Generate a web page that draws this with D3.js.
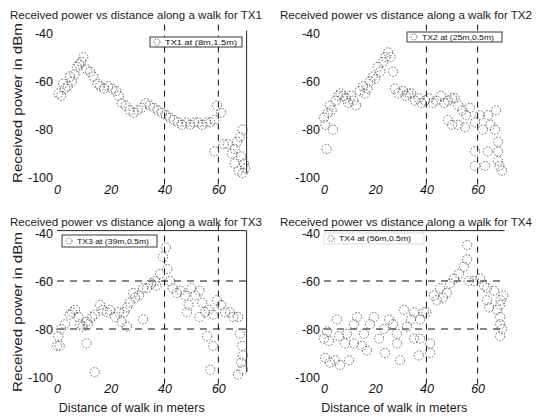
<!DOCTYPE html>
<html>
<head>
<meta charset="utf-8">
<script src="https://cdn.jsdelivr.net/npm/d3@7"></script>
<style>
  body { margin: 0; background: #fff; }
  svg { font-family: 'Liberation Sans', Arial, sans-serif; }
</style>
</head>
<body>
<div id="chart"></div>
<script>
// [distance in m, received power in dBm]
const tx1 = [
  [0.5, -65], [1.5, -66], [2.3, -61], [3, -63], [4, -62], [4.8, -58], [5.5, -60],
  [6.5, -57], [7.4, -54], [8.2, -53], [9, -52], [9.8, -50], [11, -55], [12.3, -56],
  [13.5, -58], [15, -61], [16, -62], [17.5, -63], [19, -62], [20.5, -63], [22, -64],
  [23, -66], [24, -69], [25.5, -70], [27, -72], [28.5, -73], [30, -72], [31.5, -71],
  [33, -69], [34.5, -70], [36, -71], [37.5, -72], [39, -73], [40.5, -74], [42, -75],
  [43.5, -76], [45, -77], [46.5, -78], [48, -77], [49.5, -78], [51, -77], [52.5, -77],
  [54, -78], [55.5, -77], [57, -77], [58.5, -76], [59.5, -70], [61, -73], [58.5, -89],
  [62, -86], [63.5, -86], [65, -90], [66, -88], [67, -85], [68, -83], [69, -80],
  [68.5, -91], [69.5, -94], [70, -96], [66, -94], [67.5, -97], [69, -98]
]
const tx2 = [
  [0, -75], [0.5, -78], [1, -88], [1.5, -73], [2.3, -70], [3, -72], [3.5, -80],
  [4.5, -68], [5.5, -66], [6.5, -65], [7.5, -66], [8.5, -67], [9.5, -69], [10.5, -66],
  [11.5, -68], [12.5, -70], [14, -64], [15.2, -62], [16, -65], [17, -63], [18, -60],
  [19, -58], [20, -59], [21, -54], [22, -56], [23, -52], [24, -50], [25, -48],
  [26, -50], [27, -56], [27.7, -63], [29, -65], [30.9, -64], [32, -66], [33, -65],
  [34, -65], [35.5, -68], [37, -67], [38, -69], [39.5, -68], [41, -67], [42.5, -69],
  [44, -68], [45.7, -66], [47, -69], [48.4, -68], [50, -67], [51, -67], [52.5, -70],
  [54, -72], [55.5, -74], [57, -71], [48.4, -76], [50, -78], [52.3, -78], [55, -79],
  [59, -77], [60.9, -74], [62, -80], [64, -74], [65, -78], [66.8, -80], [67.2, -72],
  [68, -85], [68, -89], [68, -93], [68.5, -95], [69.5, -97], [59, -89], [62.9, -95],
  [59, -95], [64, -89]
]
const tx3 = [
  [0, -87], [0.5, -83], [1.5, -80], [3, -78], [4.8, -74], [5.6, -73], [6.7, -72],
  [8, -75], [8.6, -78], [9.5, -79], [11, -77], [11.5, -78], [13, -75], [14, -74],
  [16, -70], [17, -72], [18.6, -73], [19.7, -72], [21.6, -75], [23, -73], [24, -77],
  [25, -73], [26, -71], [27, -69], [28.3, -65], [29, -67], [30.5, -66], [32, -63],
  [33.5, -63], [35, -61], [36.5, -60], [37, -62], [38.3, -57], [39.4, -50], [40.5, -46],
  [41, -55], [42, -60], [43, -63], [44.5, -65], [46, -64], [47.6, -66], [48.3, -73],
  [49, -70], [50, -63], [51.5, -66], [53, -64], [54, -69], [53, -75], [55, -73],
  [56.5, -72], [58, -74], [59.5, -68], [61, -70], [62.5, -73], [64.3, -73], [65.5, -75],
  [67.3, -75], [68, -82], [68.8, -87], [69.1, -91], [69.1, -97], [67.3, -99], [68.5, -94],
  [55.8, -83], [58, -87], [57, -97], [32, -76], [26, -79], [11, -86], [14, -98], [1, -87]
]
const tx4 = [
  [0, -84], [0.4, -92], [1.2, -81], [2, -85], [2.3, -94], [4.3, -93], [5, -76],
  [5.9, -83], [6.2, -95], [8.2, -86], [9, -82], [9.8, -93], [11.7, -78], [11.7, -86],
  [12.9, -75], [14.8, -87], [15.6, -82], [16.8, -89], [18, -78], [19.5, -75], [21.5, -84],
  [23.4, -80], [23.8, -90], [25.4, -76], [27, -78], [28.5, -82], [28.5, -86], [29.7, -93],
  [31.2, -72], [32.4, -79], [34, -76], [35.2, -73], [35.2, -84], [37, -91], [37.5, -76],
  [37.5, -84], [39, -73], [40, -73], [41.4, -86], [41.4, -90], [43, -66], [44.1, -68],
  [45.3, -63], [46.5, -67], [48, -65], [49.2, -61], [50.8, -59], [52.7, -57], [54.7, -54],
  [55.9, -51], [55.9, -45], [56.5, -60], [58.6, -60], [61, -59], [62.5, -62], [63.7, -63],
  [63.7, -68], [64.5, -71], [66.4, -64], [67.6, -72], [68.8, -70], [68.8, -75], [68.8, -78],
  [68.8, -83], [69.5, -80], [70, -66], [69, -68]
]

const titles = [
  'Received power vs distance along a walk for TX1',
  'Received power vs distance along a walk for TX2',
  'Received power vs distance along a walk for TX3',
  'Received power vs distance along a walk for TX4'
]
const legendLabels = ['TX1 at (8m,1.5m)', 'TX2 at (25m,0.5m)', 'TX3 at (39m,0.5m)', 'TX4 at (56m,0.5m)']
const xTicks = [0, 20, 40, 60]
const yTicks = [-40, -60, -80, -100]
const distLines = [40, 60]
const powerLines = [-60, -80]

const svg = d3
  .select('#chart')
  .append('svg')
  .attr('width', 537)
  .attr('height', 417)

const panels = [
  { data: tx1, x: [57, 246.6], y: [182.8, 30.6], titleX: 10, titleY: 19, yLabel: 103, hLines: false, frame: ['right'], legend: [150, 37, 92, 10] },
  { data: tx2, x: [324, 504.5], y: [182.8, 30.6], titleX: 280, titleY: 19, yLabel: null, hLines: false, frame: [], legend: [407, 32, 95, 10] },
  { data: tx3, x: [57, 246.6], y: [381.8, 230.6], titleX: 10, titleY: 226, yLabel: 312, hLines: true, frame: ['top', 'right'], legend: [62, 235, 95, 12] },
  { data: tx4, x: [324, 504.5], y: [381.8, 230.6], titleX: 280, titleY: 226, yLabel: null, hLines: true, frame: ['top'], legend: [324, 233, 100, 11] }
]

panels.forEach((p, i) => {
  const xScale = d3.scaleLinear().domain([0, 70.5]).range(p.x)
  const yScale = d3.scaleLinear().domain([-102, -39]).range(p.y)
  const g = svg.append('g')

  // title
  g.append('text')
    .attr('x', p.titleX)
    .attr('y', p.titleY)
    .attr('font-size', 10)
    .attr('textLength', 252)
    .attr('lengthAdjust', 'spacingAndGlyphs')
    .attr('fill', '#222')
    .text(titles[i])

  // dashed reference lines
  g.selectAll('.vline')
    .data(distLines)
    .enter()
    .append('line')
    .attr('x1', d => xScale(d))
    .attr('x2', d => xScale(d))
    .attr('y1', yScale(-39) - 6)
    .attr('y2', yScale(-102) + 2)
    .attr('stroke', '#111')
    .attr('stroke-width', 1)
    .attr('stroke-dasharray', '6,5')

  if (p.hLines) {
    g.selectAll('.hline')
      .data(powerLines)
      .enter()
      .append('line')
      .attr('x1', xScale(0))
      .attr('x2', xScale(70.5))
      .attr('y1', d => yScale(d))
      .attr('y2', d => yScale(d))
      .attr('stroke', '#111')
      .attr('stroke-width', 1)
      .attr('stroke-dasharray', '7,6')
  }

  // what is left of the axes box in the scan
  if (p.frame.includes('top')) {
    g.append('line')
      .attr('x1', xScale(0)).attr('x2', xScale(70.5))
      .attr('y1', yScale(-39)).attr('y2', yScale(-39))
      .attr('stroke', '#222')
  }
  if (p.frame.includes('right')) {
    g.append('line')
      .attr('x1', xScale(70.5)).attr('x2', xScale(70.5))
      .attr('y1', yScale(-39)).attr('y2', yScale(-98))
      .attr('stroke', '#222')
  }

  // measurements
  g.selectAll('circle.pt')
    .data(p.data)
    .enter()
    .append('circle')
    .attr('class', 'pt')
    .attr('cx', d => xScale(d[0]))
    .attr('cy', d => yScale(d[1]))
    .attr('r', 4.6)
    .attr('fill', 'none')
    .attr('stroke', '#444')
    .attr('stroke-width', 0.8)
    .attr('stroke-dasharray', '1.6,1.6')

  // axes, plain hyphen minus like the original
  const yAxis = d3.axisLeft(yScale).tickValues(yTicks).tickSize(0).tickPadding(4).tickFormat(d => String(d))
  g.append('g')
    .attr('transform', 'translate(' + xScale(0) + ',0)')
    .call(yAxis)
    .call(a => a.select('.domain').remove())
    .selectAll('text')
    .attr('font-size', 12.5)
    .attr('fill', '#111')
    .attr('font-family', 'Liberation Sans, Arial, sans-serif')

  const xAxis = d3.axisBottom(xScale).tickValues(xTicks).tickSize(0).tickPadding(7).tickFormat(d => String(d))
  g.append('g')
    .attr('transform', 'translate(0,' + yScale(-100) + ')')
    .call(xAxis)
    .call(a => a.select('.domain').remove())
    .selectAll('text')
    .attr('font-size', 12.5)
    .attr('font-style', 'italic')
    .attr('fill', '#111')
    .attr('font-family', 'Liberation Sans, Arial, sans-serif')

  if (p.yLabel !== null) {
    g.append('text')
      .attr('transform', 'translate(18,' + p.yLabel + ') rotate(-90)')
      .attr('text-anchor', 'middle')
      .attr('dy', '0.35em')
      .attr('font-size', 12.5)
      .attr('textLength', 160)
      .attr('lengthAdjust', 'spacingAndGlyphs')
      .attr('fill', '#222')
      .text('Received power in dBm')
  }

  if (i >= 2) {
    g.append('text')
      .attr('x', (p.x[0] + p.x[1]) / 2 - 20)
      .attr('y', 408)
      .attr('dy', '0.35em')
      .attr('text-anchor', 'middle')
      .attr('font-size', 12.5)
      .attr('fill', '#222')
      .text('Distance of walk in meters')
  }

  // legend box
  const lb = p.legend
  g.append('rect')
    .attr('x', lb[0]).attr('y', lb[1])
    .attr('width', lb[2]).attr('height', lb[3])
    .attr('fill', '#fff')
    .attr('stroke', '#222')
    .attr('stroke-opacity', i === 3 ? 0.15 : 0.9)
  g.append('circle')
    .attr('cx', lb[0] + 7).attr('cy', lb[1] + lb[3] / 2)
    .attr('r', 3)
    .attr('fill', 'none')
    .attr('stroke', '#444')
    .attr('stroke-width', 0.8)
    .attr('stroke-dasharray', '1.4,1.4')
  g.append('text')
    .attr('x', lb[0] + 15)
    .attr('y', lb[1] + lb[3] / 2)
    .attr('dy', '0.35em')
    .attr('font-size', 7.5)
    .attr('textLength', 72)
    .attr('lengthAdjust', 'spacingAndGlyphs')
    .attr('fill', '#111')
    .text(legendLabels[i])
})
</script>
</body>
</html>
